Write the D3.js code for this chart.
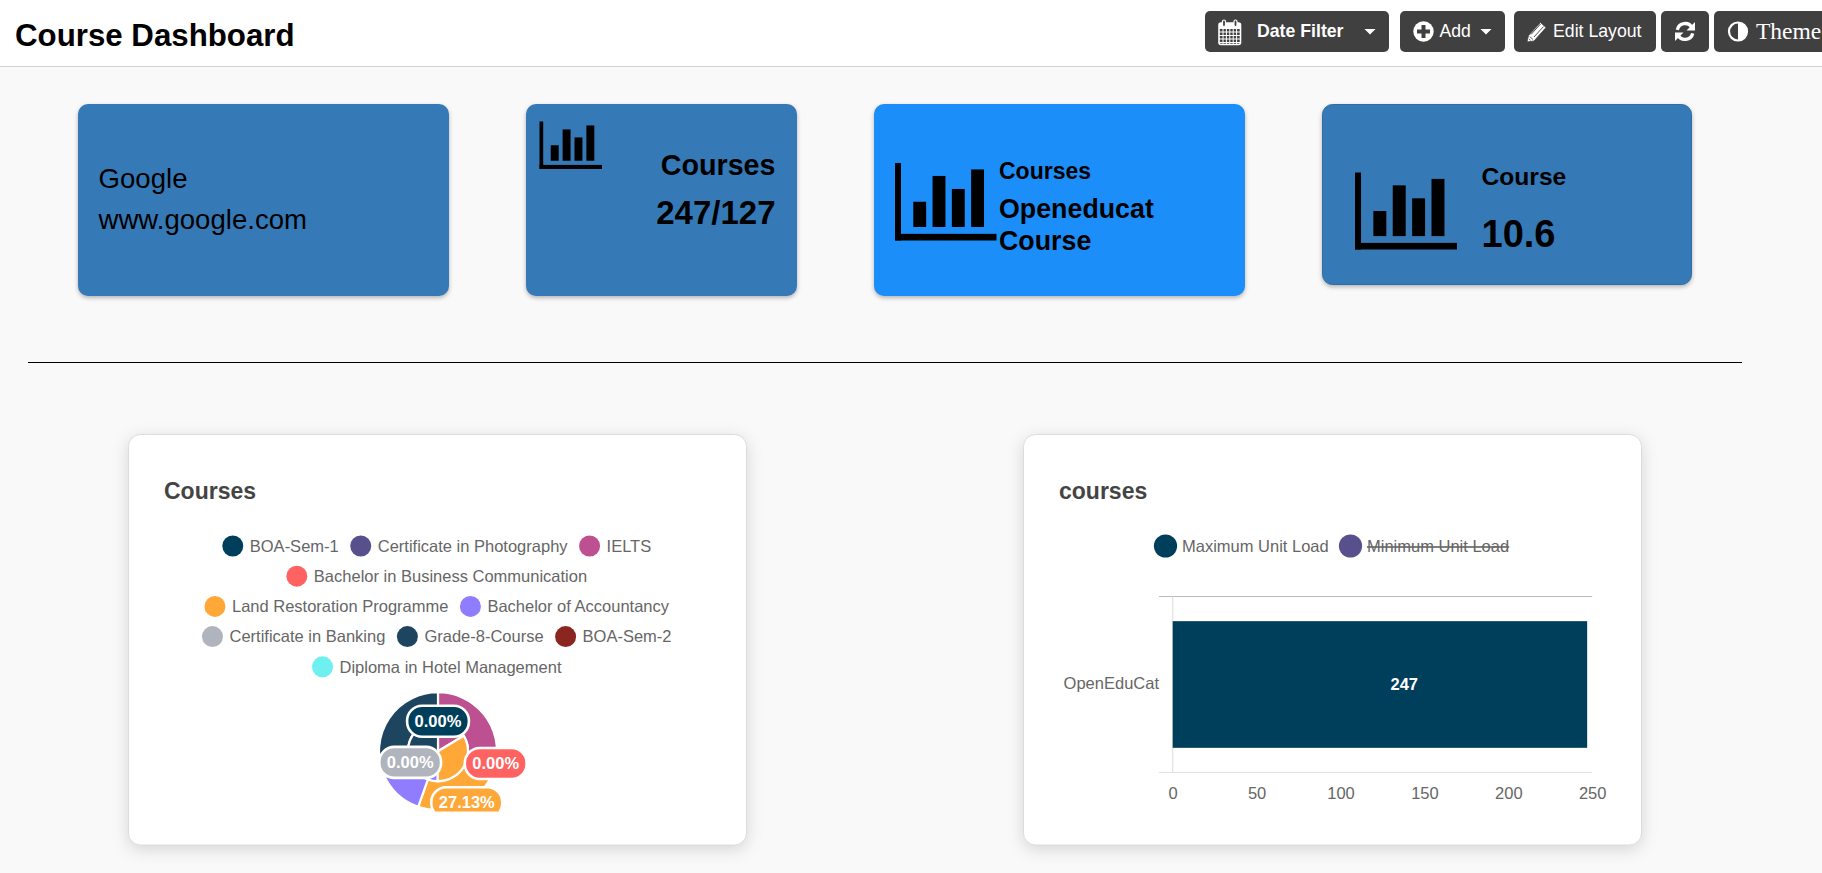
<!DOCTYPE html>
<html>
<head>
<meta charset="utf-8">
<title>Course Dashboard</title>
<script src="https://cdn.jsdelivr.net/npm/d3@7"></script>
<style>
  html, body { margin: 0; padding: 0; background: #f9f9f9; overflow: hidden; }
  svg { display: block; font-family: "Liberation Sans", Arial, sans-serif; }
  .tile { filter: drop-shadow(0 2px 2px rgba(0,0,0,.28)); }
  .panel { filter: drop-shadow(0 4px 8px rgba(0,0,0,.14)); }
  .axis path, .axis line { display: none; }
  .axis text { font-size: 16.5px; fill: #666; font-family: "Liberation Sans", Arial, sans-serif; }
</style>
</head>
<body>
<div id="container"></div>
<script>
// chart values
const courseNames = ['BOA-Sem-1', 'Certificate in Photography', 'IELTS', 'Bachelor in Business Communication',
  'Land Restoration Programme', 'Bachelor of Accountancy', 'Certificate in Banking', 'Grade-8-Course',
  'BOA-Sem-2', 'Diploma in Hotel Management'];
const courseColors = ['#003f5c', '#58508d', '#bc5090', '#ff6361', '#ffa737', '#8f7cff', '#b0b4bd', '#1d4560', '#8b2520', '#6eeff0'];
const outerShare = [0, 0, 28.33, 0, 27.13, 13.5, 0, 31.04, 0, 0];
const innerShare = [0, 0, 16.4, 0, 33.9, 18.6, 0, 31.1, 0, 0];

const barCategories = ['OpenEduCat'];
const maxUnitLoad = [247];
const barLabelAt = 138; // the 247 label does not sit in the bar's middle in the original
const barTicks = [0, 50, 100, 150, 200, 250];
const barLegend = ['Maximum Unit Load', 'Minimum Unit Load'];

const width = 1822;
const height = 873;
const tileBlue = '#3679b7';
const chartFont = 16.5;

const svg = d3.select('#container').append('svg')
  .attr('width', width)
  .attr('height', height);

function addText(parent, x, y, str, size, opts = {}) {
  return parent.append('text')
    .attr('x', x)
    .attr('y', y)
    .attr('font-size', size)
    .attr('font-weight', opts.weight || 'normal')
    .attr('font-family', opts.family || null)
    .attr('text-anchor', opts.anchor || 'start')
    .attr('fill', opts.fill || '#000')
    .attr('text-decoration', opts.decoration || null)
    .text(str);
}

function addBox(parent, x, y, w, h, r, fill) {
  return parent.append('rect')
    .attr('x', x).attr('y', y)
    .attr('width', w).attr('height', h)
    .attr('rx', r).attr('fill', fill);
}

// ---- header ----
function drawHeader() {
  addBox(svg, 0, 0, width, 66, 0, '#fff');
  svg.append('line').attr('x1', 0).attr('x2', width).attr('y1', 66.5).attr('y2', 66.5).attr('stroke', '#d2d2d2');
  addText(svg, 15, 46, 'Course Dashboard', 31.25, { weight: 'bold' });

  const btnFill = '#404040';
  addBox(svg, 1205, 11, 184, 41, 5, btnFill);
  addBox(svg, 1400, 11, 105, 41, 5, btnFill);
  addBox(svg, 1514, 11, 142, 41, 5, btnFill);
  addBox(svg, 1661, 11, 48, 41, 5, btnFill);
  addBox(svg, 1714, 11, 120, 41, 5, btnFill);

  addText(svg, 1257, 37, 'Date Filter', 17.7, { weight: 'bold', fill: '#fff' });
  addText(svg, 1439.5, 37, 'Add', 17.6, { fill: '#fff' });
  addText(svg, 1553, 37, 'Edit Layout', 17.7, { fill: '#fff' });
  addText(svg, 1756, 39, 'Theme', 23.5, { family: '"Liberation Serif", serif', fill: '#fff' });

  // carets
  svg.selectAll('path.caret').data([1370, 1486]).enter().append('path')
    .attr('class', 'caret')
    .attr('d', d => `M${d - 5.5},29 h11 l-5.5,5.5 z`)
    .attr('fill', '#fff');

  // calendar
  const cal = svg.append('g').attr('fill', 'none').attr('stroke', '#fff');
  cal.append('rect').attr('x', 1219).attr('y', 23).attr('width', 21.5).attr('height', 21.5).attr('rx', 2).attr('stroke-width', 1.6);
  d3.range(5).forEach(i => {
    cal.append('line').attr('x1', 1219).attr('x2', 1240.5).attr('y1', 28.5 + i * 3.5).attr('y2', 28.5 + i * 3.5).attr('stroke-width', 1);
    cal.append('line').attr('x1', 1223 + i * 3.4).attr('x2', 1223 + i * 3.4).attr('y1', 28.5).attr('y2', 44).attr('stroke-width', 1);
  });
  cal.append('rect').attr('x', 1219).attr('y', 23).attr('width', 21.5).attr('height', 5.5).attr('fill', '#fff').attr('stroke-width', 0);
  [1224, 1235.5].forEach(x => {
    cal.append('rect').attr('x', x - 1.5).attr('y', 20).attr('width', 3).attr('height', 6.5).attr('rx', 1.5)
      .attr('fill', btnFill).attr('stroke-width', 1.2);
  });

  // add
  svg.append('circle').attr('cx', 1423.5).attr('cy', 31.5).attr('r', 10.2).attr('fill', '#fff');
  svg.append('path').attr('d', 'M1421.5,25 h4 v4.5 h4.5 v4 h-4.5 v4.5 h-4 v-4.5 h-4.5 v-4 h4.5 z').attr('fill', btnFill);

  // edit pencil
  svg.append('path')
    .attr('d', 'M1527,42 l1.5,-6.5 l12,-13 l5.5,5 l-12,13.5 z M1529.6,36.5 l3.4,3 M1529,39 l1.5,1.4')
    .attr('fill', '#fff').attr('stroke', btnFill).attr('stroke-width', 0.8);
  svg.append('path').attr('d', 'M1531,34.5 l9.5,-10.5 M1534,37 l9.5,-10.5')
    .attr('stroke', btnFill).attr('stroke-width', 0.9).attr('fill', 'none');

  // refresh
  const cx = 1685;
  const cy = 31.5;
  const refreshArc = d3.arc().innerRadius(6.2).outerRadius(9.6);
  svg.append('path').attr('transform', `translate(${cx},${cy})`)
    .attr('d', refreshArc({ startAngle: -1.35, endAngle: 1.1 })).attr('fill', '#fff');
  svg.append('path').attr('transform', `translate(${cx},${cy})`)
    .attr('d', refreshArc({ startAngle: 1.8, endAngle: 4.25 })).attr('fill', '#fff');
  svg.append('path').attr('d', `M${cx + 10},${cy - 9.5} v8.5 h-8.5 z`).attr('fill', '#fff');
  svg.append('path').attr('d', `M${cx - 10},${cy + 9.5} v-8.5 h8.5 z`).attr('fill', '#fff');

  // theme half circle
  svg.append('circle').attr('cx', 1738).attr('cy', 31.5).attr('r', 9).attr('fill', 'none').attr('stroke', '#fff').attr('stroke-width', 2.2);
  svg.append('path').attr('d', 'M1738,22.5 a9,9 0 0 1 0,18 z').attr('fill', '#fff');
}

// ---- tiles ----
function barIcon(parent, x, y, w, h) {
  const g = parent.append('g').attr('fill', '#000');
  g.append('rect').attr('x', x).attr('y', y).attr('width', w * 0.059).attr('height', h);
  g.append('rect').attr('x', x).attr('y', y + h * 0.914).attr('width', w).attr('height', h * 0.086);
  [[0.18, 0.5], [0.37, 0.167], [0.56, 0.335], [0.75, 0.083]].forEach(([l, t]) => {
    g.append('rect').attr('x', x + w * l).attr('y', y + h * t)
      .attr('width', w * 0.127).attr('height', h * (0.826 - t));
  });
}

function drawTiles() {
  const t1 = svg.append('g').attr('class', 'tile');
  addBox(t1, 78, 104, 371, 192, 10, tileBlue);
  const t2 = svg.append('g').attr('class', 'tile');
  addBox(t2, 526, 104, 271, 192, 10, tileBlue);
  const t3 = svg.append('g').attr('class', 'tile');
  addBox(t3, 874, 104, 371, 192, 10, '#1c8ef9');
  const t4 = svg.append('g').attr('class', 'tile');
  addBox(t4, 1322.5, 104.5, 369, 180, 10, tileBlue).attr('stroke', '#2e6da4');

  addText(svg, 98.5, 188, 'Google', 27.6);
  addText(svg, 98.5, 229, 'www.google.com', 27.6);

  barIcon(svg, 539.5, 121.5, 62.5, 47.5);
  addText(svg, 775.5, 175, 'Courses', 28.7, { weight: 'bold', anchor: 'end' });
  addText(svg, 775.5, 224, '247/127', 33, { weight: 'bold', anchor: 'end' });

  barIcon(svg, 895, 163, 101.5, 77.5);
  addText(svg, 999, 179, 'Courses', 23, { weight: 'bold' });
  addText(svg, 999, 218, 'Openeducat', 26.8, { weight: 'bold' });
  addText(svg, 999, 250, 'Course', 26.8, { weight: 'bold' });

  barIcon(svg, 1355, 172.5, 102, 77);
  addText(svg, 1481.5, 185, 'Course', 24.6, { weight: 'bold' });
  addText(svg, 1481.5, 247, '10.6', 38, { weight: 'bold' });

  svg.append('line').attr('x1', 28).attr('x2', 1742).attr('y1', 362.5).attr('y2', 362.5).attr('stroke', '#000');
}

function drawPanel(x, title, titleX) {
  const p = svg.append('g').attr('class', 'panel');
  addBox(p, x, 434.5, 618, 410.5, 12, '#fff').attr('stroke', '#dcdcdc');
  addText(svg, titleX, 499, title, 23, { weight: 'bold', fill: '#444' });
}

// ---- pie ----
function drawPie() {
  drawPanel(128.5, 'Courses', 164);

  // legend wraps like the original, centred in the card
  const legendCenter = 437;
  const legendMax = 530;
  const legend = svg.append('g');
  const rows = [[]];
  let rowW = 0;
  courseNames.forEach((name, i) => {
    const g = legend.append('g');
    g.append('circle').attr('r', 10.5).attr('cx', 10).attr('fill', courseColors[i]);
    const label = addText(g, 27, 0, name, chartFont, { fill: '#666' }).attr('dy', '.35em');
    const w = 27 + label.node().getComputedTextLength();
    if (rowW + w > legendMax && rowW > 0) {
      rows.push([]);
      rowW = 0;
    }
    rows[rows.length - 1].push({ g, w });
    rowW += w + 12;
  });
  rows.forEach((row, r) => {
    const total = d3.sum(row, d => d.w) + 12 * (row.length - 1);
    let x = legendCenter - total / 2;
    row.forEach(item => {
      item.g.attr('transform', `translate(${x},${546 + r * 30.2})`);
      x += item.w + 12;
    });
  });

  const cx = 438;
  const cy = 751.2;
  const innerR = 30;
  const outerR = 59;

  svg.append('clipPath').attr('id', 'pie-clip')
    .append('rect').attr('x', 129).attr('y', 680).attr('width', 618).attr('height', 131.6);
  const g = svg.append('g').attr('clip-path', 'url(#pie-clip)')
    .append('g').attr('transform', `translate(${cx},${cy})`);

  const pie = d3.pie().sort(null).value(d => d);
  const rings = [
    { arcs: pie(outerShare), arc: d3.arc().innerRadius(innerR).outerRadius(outerR), r: outerR },
    { arcs: pie(innerShare), arc: d3.arc().innerRadius(0).outerRadius(innerR), r: innerR }
  ];

  rings.forEach(ring => {
    g.append('g').selectAll('path')
      .data(ring.arcs.filter(d => d.value > 0))
      .enter().append('path')
      .attr('d', ring.arc)
      .attr('fill', d => courseColors[d.index])
      .attr('stroke', '#fff')
      .attr('stroke-width', 2.2);
  });

  // only these bubbles show in the picture: [ring, course]
  const shownLabels = [[0, 3], [0, 4], [1, 0], [1, 6]];
  shownLabels.forEach(([ringIdx, course]) => {
    const ring = rings[ringIdx];
    const a = ring.arcs[course];
    const mid = (a.startAngle + a.endAngle) / 2;
    const lx = Math.sin(mid) * ring.r;
    const ly = -Math.cos(mid) * ring.r;
    const lab = g.append('g').attr('transform', `translate(${lx},${ly})`);
    const box = lab.append('rect').attr('fill', courseColors[course]).attr('stroke', '#fff').attr('stroke-width', 2.6);
    const txt = lab.append('text').attr('text-anchor', 'middle').attr('dy', '.35em')
      .attr('font-size', chartFont).attr('font-weight', 'bold').attr('fill', '#fff')
      .text(a.value.toFixed(2) + '%');
    const w = txt.node().getComputedTextLength() + 15;
    box.attr('x', -w / 2).attr('y', -15.5).attr('width', w).attr('height', 31).attr('rx', 15);
  });
}

// ---- bar ----
function drawBar() {
  drawPanel(1023.5, 'courses', 1059);

  const legendX = [1154, 1339];
  barLegend.forEach((name, i) => {
    svg.append('circle').attr('cx', legendX[i] + 11.5).attr('cy', 546).attr('r', 11.6).attr('fill', courseColors[i]);
    addText(svg, legendX[i] + 28, 552, name, chartFont, { fill: '#666', decoration: i === 1 ? 'line-through' : null });
  });

  const x = d3.scaleLinear().domain([0, 250]).range([1172.7, 1592.2]);
  const y = d3.scaleBand().domain(barCategories).range([596.5, 772.5]).padding(0.163);

  svg.append('line').attr('x1', 1159).attr('x2', x.range()[1]).attr('y1', y.range()[0]).attr('y2', y.range()[0]).attr('stroke', '#bbb').attr('stroke-width', 1.2);
  svg.append('line').attr('x1', 1159).attr('x2', x.range()[1]).attr('y1', y.range()[1]).attr('y2', y.range()[1]).attr('stroke', '#e2e2e2').attr('stroke-width', 1.2);
  svg.append('line').attr('x1', x(0)).attr('x2', x(0)).attr('y1', y.range()[0]).attr('y2', y.range()[1]).attr('stroke', '#e2e2e2').attr('stroke-width', 1.2);

  svg.selectAll('rect.bar').data(maxUnitLoad).enter().append('rect')
    .attr('class', 'bar')
    .attr('x', x(0))
    .attr('y', (d, i) => y(barCategories[i]))
    .attr('width', d => x(d) - x(0))
    .attr('height', y.bandwidth())
    .attr('fill', courseColors[0]);

  svg.selectAll('text.bar-value').data(maxUnitLoad).enter().append('text')
    .attr('class', 'bar-value')
    .attr('x', x(barLabelAt))
    .attr('y', (d, i) => y(barCategories[i]) + y.bandwidth() / 2 - 0.5)
    .attr('dy', '.35em')
    .attr('text-anchor', 'middle')
    .attr('font-size', chartFont)
    .attr('font-weight', 'bold')
    .attr('fill', '#fff')
    .text(d => d);

  svg.append('g').attr('class', 'axis')
    .attr('transform', `translate(0,${y.range()[1]})`)
    .call(d3.axisBottom(x).tickValues(barTicks).tickSize(0).tickPadding(15));

  svg.append('g').attr('class', 'axis')
    .attr('transform', `translate(${x(0)},-1)`)
    .call(d3.axisLeft(y).tickSize(0).tickPadding(13.7));
}

drawHeader();
drawTiles();
drawPie();
drawBar();
</script>
</body>
</html>
